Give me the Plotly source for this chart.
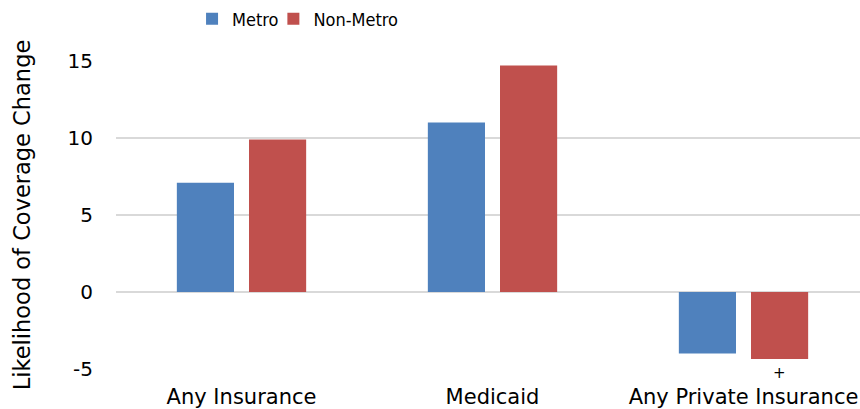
import plotly.graph_objects as go

categories = ["Any Insurance", "Medicaid", "Any Private Insurance"]
metro = [7.1, 11.0, -4.0]
non_metro = [9.9, 14.7, -4.35]
series_names = ["Metro", "Non-Metro"]
y_ticks = [-5, 0, 5, 10, 15]
y_tick_labels = ["-5", "0", "5", "10", "15"]

legend_font = dict(family="DejaVu Sans Condensed, Liberation Sans Narrow, Liberation Sans, sans-serif", size=18, color="#000")

fig = go.Figure()
fig.add_trace(go.Bar(x=categories, y=metro, name=series_names[0], legend="legend",
                     marker=dict(color="#4F81BD", line=dict(width=0))))
fig.add_trace(go.Bar(x=categories, y=non_metro, name=series_names[1], legend="legend2",
                     marker=dict(color="#C0504D", line=dict(width=0))))

fig.update_layout(
    template="none",
    width=869, height=409,
    margin=dict(l=116, r=0, t=61, b=40, autoexpand=False),
    paper_bgcolor="white", plot_bgcolor="white",
    barmode="group", bargap=0.425, bargroupgap=0.208,
    font=dict(family="DejaVu Sans", size=19, color="#000000"),
    legend=dict(orientation="h", x=0.101, xanchor="left", y=1.136, yanchor="middle",
                font=legend_font, bgcolor="rgba(0,0,0,0)", itemwidth=30),
    legend2=dict(orientation="h", x=0.209, xanchor="left", y=1.136, yanchor="middle",
                 font=legend_font, bgcolor="rgba(0,0,0,0)", itemwidth=30),
    showlegend=True,
)
fig.update_xaxes(showgrid=False, showline=False, zeroline=False, ticks="", automargin=False,
                 tickfont=dict(size=21), ticklabelstandoff=13)
fig.update_yaxes(range=[-5, 15], tickvals=y_ticks, ticktext=y_tick_labels,
                 showgrid=True, gridcolor="#D9D9D9", gridwidth=2,
                 zeroline=False, showline=False, ticks="", automargin=False,
                 tickfont=dict(size=20), ticklabelstandoff=22,
                 title=dict(text="Likelihood of Coverage Change", font=dict(size=22.5), standoff=30))
fig.add_annotation(text="+", xref="paper", yref="paper", x=0.8805, y=-0.013, xanchor="center", yanchor="middle",
                   showarrow=False, font=dict(family="DejaVu Sans", size=15, color="#000"))
fig.write_html("out.html", config={"displayModeBar": False},
               post_script="document.body.style.margin='0';document.body.style.overflow='hidden';")
